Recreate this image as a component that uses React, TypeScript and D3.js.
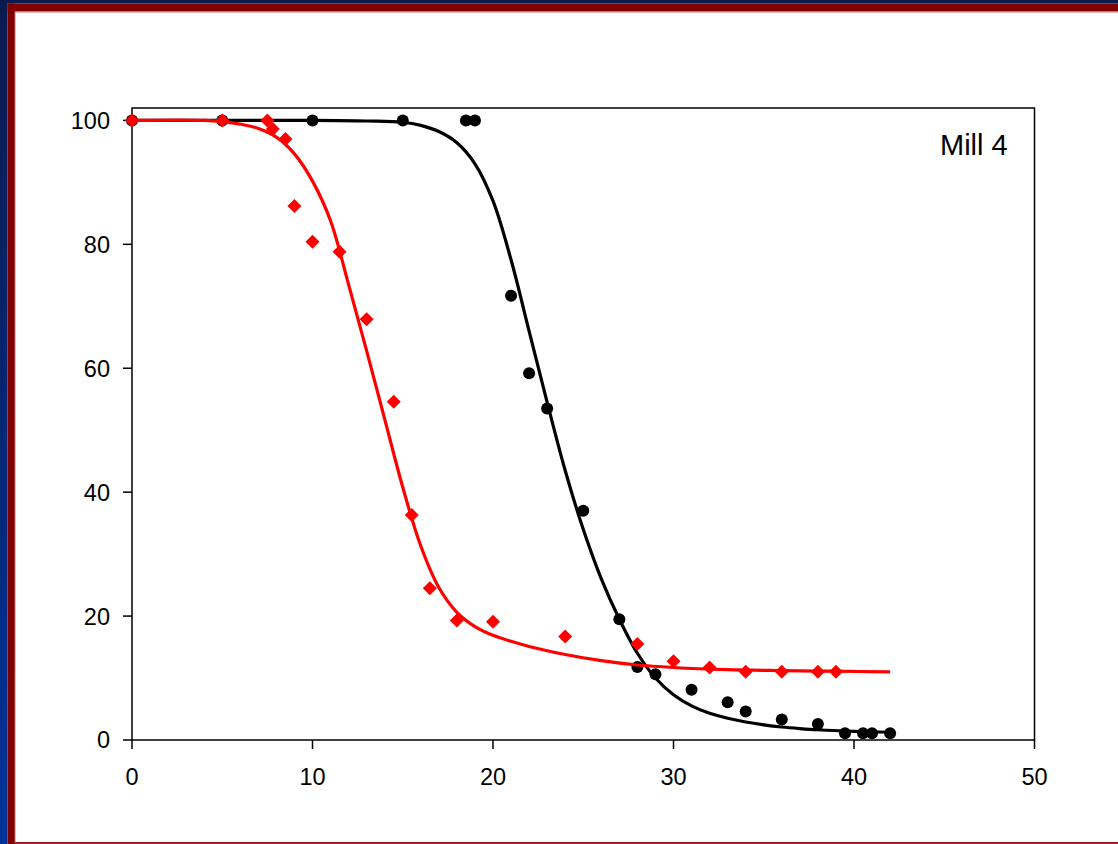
import React from "react";
import * as d3 from "d3";

// ---- data ----
const xTickValues = [0, 10, 20, 30, 40, 50];
const yTickValues = [0, 20, 40, 60, 80, 100];
const panelLabel = "Mill 4";

// black series (circles)
const blackX = [0, 5, 10, 15, 18.5, 19, 21, 22, 23, 25, 27, 28, 29, 31, 33, 34, 36, 38, 39.5, 40.5, 41, 42];
const blackY = [100, 100, 100, 100, 100, 100, 71.7, 59.2, 53.5, 37, 19.5, 11.8, 10.6, 8.1, 6.1, 4.6, 3.3, 2.6, 1.1, 1.1, 1.1, 1.1];

// red series (diamonds)
const redX = [0, 5, 7.5, 7.8, 8.5, 9, 10, 11.5, 13, 14.5, 15.5, 16.5, 18, 20, 24, 28, 30, 32, 34, 36, 38, 39];
const redY = [100, 100, 100, 98.6, 97, 86.2, 80.4, 78.8, 67.9, 54.6, 36.3, 24.5, 19.3, 19.1, 16.7, 15.5, 12.7, 11.7, 11, 11, 11, 11];

// fitted curves
const blackFitX = [0, 5, 10, 13, 15, 16, 17, 18, 19, 20, 21, 22, 23, 24, 25, 26, 27, 28, 29, 30, 31, 32, 33, 34, 35, 36, 37, 38, 40, 42];
const blackFitY = [100, 100, 100, 99.9, 99.7, 99.2, 98.2, 96.4, 93, 87, 77.5, 66, 54.5, 43.5, 34, 26, 19.5, 14, 10, 7.3, 5.5, 4.3, 3.5, 2.9, 2.45, 2.1, 1.85, 1.65, 1.4, 1.25];

const redFitX = [0, 4, 5, 6, 7, 8, 9, 10, 11, 12, 13, 14, 15, 16, 17, 18, 19, 20, 22, 24, 26, 28, 30, 33, 36, 39, 42];
const redFitY = [100, 100, 99.8, 99.4, 98.7, 97.3, 94.6, 90.2, 83.8, 73.5, 62.8, 51.8, 40.8, 31.3, 24.6, 20.6, 18.3, 16.9, 15.1, 13.8, 12.8, 12.1, 11.7, 11.35, 11.2, 11.1, 11.0];

const W = 1118;
const H = 844;

export default function App() {
  const x = d3.scaleLinear().domain([0, 50]).range([132, 1034.5]);
  const y = d3.scaleLinear().domain([0, 102]).range([740, 108]);

  const line = d3
    .line<[number, number]>()
    .x((d) => x(d[0]))
    .y((d) => y(d[1]))
    .curve(d3.curveCatmullRom.alpha(0.5));

  const blackFit: [number, number][] = blackFitX.map((v, i) => [v, blackFitY[i]]);
  const redFit: [number, number][] = redFitX.map((v, i) => [v, redFitY[i]]);

  const [x0, x1] = x.range();
  const [y0, y1] = y.range();
  const dia = 7;
  const font = "'Liberation Sans', Arial, sans-serif";

  return (
    <svg
      width={W}
      height={H}
      style={{ position: "absolute", left: 0, top: 0, display: "block" }}
    >
      <defs>
        <linearGradient id="leftBlue" x1="0" y1="0" x2="0" y2="1">
          <stop offset="0" stopColor="#0a1a4e" />
          <stop offset="1" stopColor="#00339a" />
        </linearGradient>
      </defs>
      {/* slide frame */}
      <rect x={0} y={0} width={W} height={H} fill="#ffffff" />
      <rect x={0} y={0} width={W} height={3.5} fill="#0a1a4e" />
      <rect x={0} y={0} width={7.5} height={H} fill="url(#leftBlue)" />
      <rect x={7.5} y={3.5} width={W - 7.5} height={8} fill="#800000" />
      <rect x={7.5} y={3.5} width={7.5} height={H - 3.5} fill="#800000" />
      <rect x={15} y={11.5} width={W - 15} height={1} fill="#c87070" />
      <rect x={14.5} y={11.5} width={1} height={H - 11.5} fill="#c87070" />
      <rect x={14.5} y={842} width={W - 14.5} height={2} fill="#a02020" />

      {/* plot frame */}
      <rect
        x={x0}
        y={y1}
        width={x1 - x0}
        height={y0 - y1}
        fill="none"
        stroke="#000"
        strokeWidth={1.5}
      />
      {/* y ticks */}
      {yTickValues.map((t) => (
        <g key={"y" + t}>
          <line x1={x0 - 9} x2={x0} y1={y(t)} y2={y(t)} stroke="#000" strokeWidth={1.5} />
          <text
            x={110}
            y={y(t)}
            dy="0.36em"
            textAnchor="end"
            fontFamily={font}
            fontSize={23.5}
            fill="#000"
          >
            {t}
          </text>
        </g>
      ))}
      {/* x ticks */}
      {xTickValues.map((t) => (
        <g key={"x" + t}>
          <line x1={x(t)} x2={x(t)} y1={y0} y2={y0 + 9} stroke="#000" strokeWidth={1.5} />
          <text
            x={x(t)}
            y={785}
            textAnchor="middle"
            fontFamily={font}
            fontSize={23.5}
            fill="#000"
          >
            {t}
          </text>
        </g>
      ))}

      {/* black series */}
      <path d={line(blackFit) ?? ""} fill="none" stroke="#000" strokeWidth={3.2} />
      {blackX.map((v, i) => (
        <circle key={"b" + i} cx={x(v)} cy={y(blackY[i])} r={6} fill="#000" />
      ))}

      {/* red series */}
      <path d={line(redFit) ?? ""} fill="none" stroke="#ff0000" strokeWidth={3.2} />
      {redX.map((v, i) => {
        const cx = x(v);
        const cy = y(redY[i]);
        return (
          <path
            key={"r" + i}
            d={`M${cx},${cy - dia}L${cx + dia},${cy}L${cx},${cy + dia}L${cx - dia},${cy}Z`}
            fill="#ff0000"
          />
        );
      })}

      <text x={940} y={155} fontFamily={font} fontSize={29} fill="#000">
        {panelLabel}
      </text>
    </svg>
  );
}
